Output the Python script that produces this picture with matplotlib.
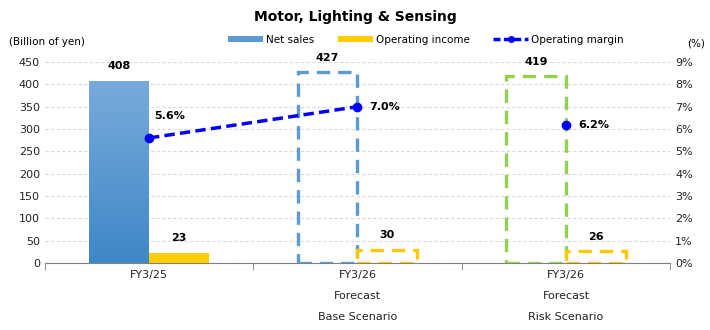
import matplotlib.pyplot as plt
import numpy as np
from matplotlib.patches import Patch
from matplotlib.lines import Line2D
from matplotlib.colors import LinearSegmentedColormap

categories = ['FY3/25', 'FY3/26\n\nForecast\n\nBase Scenario', 'FY3/26\n\nForecast\n\nRisk Scenario']
net_sales = [408, 427, 419]
op_income = [23, 30, 26]
op_margin = [5.6, 7.0, 6.2]

blue = '#5B9BD5'
yellow = '#FFC800'
green = '#92D050'
line_blue = '#0000FF'

fig = plt.figure(figsize=(7.1, 3.3), dpi=100)
ax = fig.add_axes([0.063, 0.203, 0.881, 0.609])
ax2 = ax.twinx()

x = np.arange(len(categories))
w = 0.287

# grid
ax.set_ylim(0, 450)
ax.set_xlim(-0.5, 2.5)
ax.set_yticks(np.arange(0, 451, 50))
ax.yaxis.grid(True, linestyle=(0, (3, 2)), color='#d9d9d9', linewidth=0.8)
ax.set_axisbelow(True)

# FY3/25 actuals: gradient net sales bar, solid income bar
grad = LinearSegmentedColormap.from_list('g', ['#3F87C7', '#78ABDC'])
bar = ax.bar(x[0] - w / 2, net_sales[0], w, color='none', zorder=2)[0]
img = ax.imshow(np.linspace(0, 1, 100).reshape(-1, 1), cmap=grad, origin='lower',
                extent=[x[0] - w, x[0], 0, net_sales[0]], aspect='auto', zorder=2)
img.set_clip_path(bar)
ax.bar(x[0] + w / 2, op_income[0], w, color='#FFCC00', zorder=2)

# forecasts: dashed outlines
dash = (0, (4, 2.4))
for i, col in [(1, blue), (2, green)]:
    ax.bar(x[i] - w / 2, net_sales[i], w, fill=False, edgecolor=col,
           linewidth=2.4, linestyle=dash, zorder=3)
    ax.bar(x[i] + w / 2, op_income[i], w, fill=False, edgecolor=yellow,
           linewidth=2.4, linestyle=dash, zorder=3)

# value labels
for i in range(3):
    ax.text(x[i] - w / 2, net_sales[i] + 21, f'{net_sales[i]}', ha='center', va='bottom',
            fontsize=8, fontweight='bold')
    ax.text(x[i] + w / 2, op_income[i] + 21, f'{op_income[i]}', ha='center', va='bottom',
            fontsize=8, fontweight='bold')

# operating margin
ax2.set_ylim(0, 9)
ax2.plot(x[:2], op_margin[:2], color=line_blue, linewidth=2.5, linestyle=(0, (3, 1.5)),
         marker='o', markersize=6, zorder=5)
ax2.plot(x[2], op_margin[2], color=line_blue, marker='o', markersize=6, linestyle='none', zorder=5)
ax2.text(x[0] + 0.025, op_margin[0] + 1.0, f'{op_margin[0]:.1f}%', fontsize=8,
         fontweight='bold', va='center')
for i in (1, 2):
    ax2.text(x[i] + 0.058, op_margin[i], f'{op_margin[i]:.1f}%', fontsize=8,
             fontweight='bold', va='center')
ax2.set_yticks(np.arange(0, 10))
ax2.set_yticklabels([f'{v}%' for v in range(10)])

# axes styling
for a in (ax, ax2):
    for s in ('top', 'left', 'right'):
        a.spines[s].set_visible(False)
    a.spines['bottom'].set_color('#808080')
    a.tick_params(axis='y', length=0, labelsize=8, colors='#222222')
ax2.spines['bottom'].set_visible(False)
ax.set_xticks(x)
ax.set_xticklabels(categories, fontsize=8, linespacing=1.07, color='#222222')
ax.tick_params(axis='x', which='major', length=0, pad=5)
ax.set_xticks([-0.5, 0.5, 1.5, 2.5], minor=True)
ax.tick_params(axis='x', which='minor', length=5, color='#808080')

fig.text(0.5, 0.95, 'Motor, Lighting & Sensing', ha='center', va='center',
         fontsize=10, fontweight='bold')
fig.text(0.012, 0.873, '(Billion of yen)', fontsize=7.5, va='center')
fig.text(0.993, 0.868, '(%)', fontsize=7.5, va='center', ha='right')

handles = [Patch(facecolor=blue), Patch(facecolor='#FFCC00'),
           Line2D([], [], color=line_blue, linewidth=2.5, linestyle=(0, (2, 1)),
                  marker='o', markersize=4)]
fig.legend(handles, ['Net sales', 'Operating income', 'Operating margin'],
           loc='center', bbox_to_anchor=(0.6, 0.88), ncol=3, frameon=False,
           fontsize=7.5, handlelength=3.4, handleheight=0.5, columnspacing=2.2,
           handletextpad=0.3)

fig.savefig('out.png', dpi=100)
